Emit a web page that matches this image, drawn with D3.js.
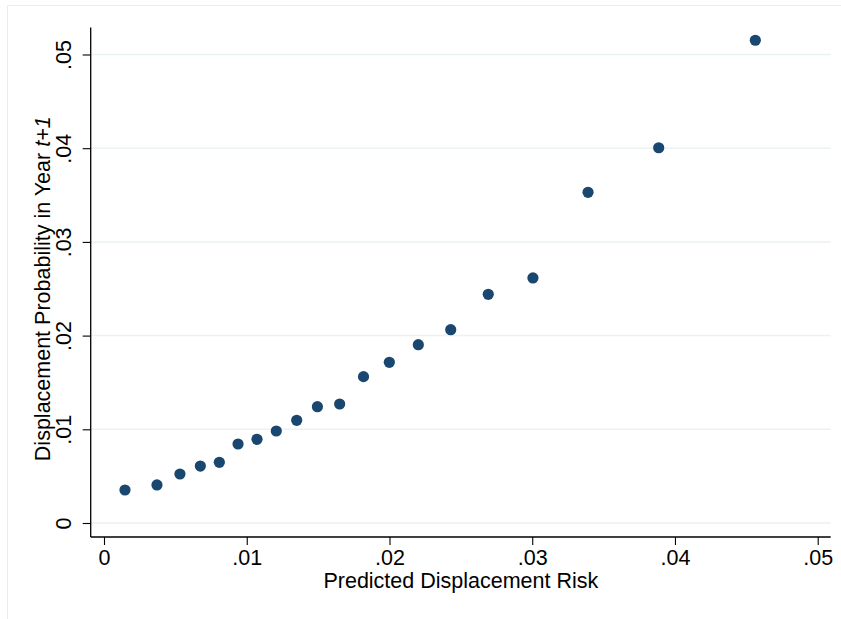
<!DOCTYPE html>
<html>
<head>
<meta charset="utf-8">
<script src="https://cdn.jsdelivr.net/npm/d3@7/dist/d3.min.js"></script>
<style>
  html, body { margin: 0; padding: 0; background: #fff; }
  svg { display: block; }
  text { font-family: "Liberation Sans", Arial, sans-serif; fill: #000; }
</style>
</head>
<body>
<svg id="chart" width="841" height="619"></svg>
<script>
// Data
const predictedRisk = [0.00147, 0.00371, 0.00532, 0.00675, 0.00808, 0.00939, 0.01072, 0.01207, 0.01350, 0.01495,
                       0.01651, 0.01818, 0.01999, 0.02202, 0.02429, 0.02692, 0.03005, 0.03391, 0.03886, 0.04563];
const displacementProb = [0.00352, 0.00406, 0.00523, 0.00608, 0.00648, 0.00843, 0.00893, 0.00982, 0.01096, 0.01241,
                          0.01270, 0.01562, 0.01715, 0.01903, 0.02063, 0.02441, 0.02615, 0.03529, 0.04005, 0.05152];
const xTicks = [0, 0.01, 0.02, 0.03, 0.04, 0.05];
const yTicks = [0, 0.01, 0.02, 0.03, 0.04, 0.05];
const xTitle = "Predicted Displacement Risk";

const fmt = v => v === 0 ? "0" : d3.format(".2f")(v).replace(/^0/, "");
const FS = 21.5;

const svg = d3.select("#chart");

// outer graph-region border (light)
svg.append("rect").attr("x", 7.5).attr("y", 5.5).attr("width", 900).attr("height", 900)
  .attr("fill", "none").attr("stroke", "#e8eef0").attr("stroke-width", 1);

const plot = { left: 90.7, right: 830.7, top: 27.6, bottom: 537 };

const x = d3.scaleLinear().domain([-0.000932, 0.05091]).range([plot.left, plot.right]);
const y = d3.scaleLinear().domain([-0.001494, 0.05287]).range([plot.bottom, plot.top]);

// gridlines
svg.append("g").selectAll("line").data(yTicks).join("line")
  .attr("x1", plot.left).attr("x2", plot.right)
  .attr("y1", d => y(d)).attr("y2", d => y(d))
  .attr("stroke", "#eaf2f3").attr("stroke-width", 1.5);

// x axis
const xAxis = svg.append("g").attr("transform", `translate(0,${plot.bottom})`)
  .call(d3.axisBottom(x).tickValues(xTicks).tickFormat(fmt).tickSize(8).tickPadding(5));
xAxis.attr("font-size", FS).attr("font-family", "Liberation Sans, Arial, sans-serif");
xAxis.select(".domain").attr("d", `M${plot.left},0H${plot.right}`).attr("stroke", "#000").attr("stroke-width", 1.3);
xAxis.selectAll(".tick line").attr("stroke", "#000").attr("stroke-width", 1.1);
xAxis.selectAll(".tick text").attr("fill", "#000").attr("y", 28).attr("dy", 0);

// y axis
const yAxis = svg.append("g").attr("transform", `translate(${plot.left},0)`)
  .call(d3.axisLeft(y).tickValues(yTicks).tickFormat(fmt).tickSize(8).tickPadding(0));
yAxis.attr("font-size", FS).attr("font-family", "Liberation Sans, Arial, sans-serif");
yAxis.select(".domain").attr("d", `M0,${plot.top}V${plot.bottom}`).attr("stroke", "#000").attr("stroke-width", 1.3);
yAxis.selectAll(".tick line").attr("stroke", "#000").attr("stroke-width", 1.1);
yAxis.selectAll(".tick text")
  .attr("fill", "#000")
  .attr("x", 0).attr("dy", 0)
  .attr("text-anchor", "middle")
  .attr("transform", "translate(-20,0) rotate(-90)");

// x title
svg.append("text").attr("x", (x(0) + x(0.05)) / 2).attr("y", 588)
  .attr("text-anchor", "middle").attr("font-size", FS).text(xTitle);

// y title
const yt = svg.append("text").attr("transform", `translate(50,${(y(0) + y(0.05)) / 2}) rotate(-90)`)
  .attr("text-anchor", "middle").attr("font-size", FS);
yt.append("tspan").text("Displacement Probability in Year ");
yt.append("tspan").attr("font-style", "italic").text("t+1");

// points
svg.append("g").selectAll("circle").data(predictedRisk.map((d, i) => [d, displacementProb[i]])).join("circle")
  .attr("cx", d => x(d[0])).attr("cy", d => y(d[1])).attr("r", 5.6)
  .attr("fill", "#1a476f");
</script>
</body>
</html>
